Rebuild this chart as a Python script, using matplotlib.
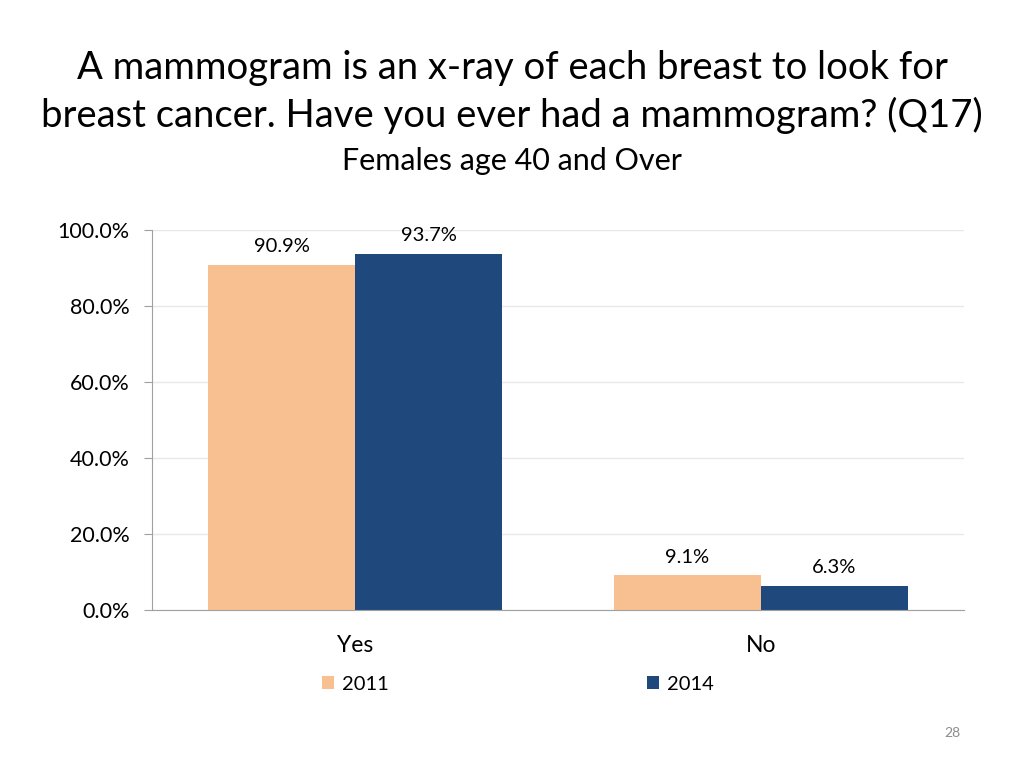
import numpy as np
from matplotlib import pyplot as plt

# =============================================================================
# Data
# =============================================================================
categories = ['Yes', 'No']
years = ['2011', '2014']
values_2011 = [90.9, 9.1]
values_2014 = [93.7, 6.3]
colors = ['#F8C090', '#1F497D']

plt.rcParams['font.family'] = ['Lato', 'DejaVu Sans']

fig = plt.figure(figsize=(10.24, 7.68), dpi=100)
ax = fig.add_axes([0.1484, 0.2057, 0.7930, 0.4948])

x = np.arange(len(categories))
w = 0.362
b1 = ax.bar(x - w/2, values_2011, w, color=colors[0], label=years[0])
b2 = ax.bar(x + w/2, values_2014, w, color=colors[1], label=years[1])

for bars in (b1, b2):
    for r in bars:
        ax.annotate('%.1f%%' % r.get_height(), (r.get_x() + r.get_width()/2, r.get_height()),
                    xytext=(0, 7), textcoords='offset points', ha='center', va='bottom', fontsize=14.5)

ax.set_xlim(-0.5, 1.5)
ax.set_ylim(0, 100)
ax.set_yticks(np.arange(0, 101, 20))
ax.set_yticklabels(['%.1f%%' % v for v in np.arange(0, 101, 20)], fontsize=15.5)
ax.set_xticks(x)
ax.set_xticklabels(categories, fontsize=16.5)
ax.tick_params(axis='x', length=0, pad=18)
ax.tick_params(axis='y', length=6, color='#A0A0A0', pad=10)
ax.yaxis.grid(True, color='#E8E8E8', lw=1)
ax.set_axisbelow(True)
for s in ['top', 'right']:
    ax.spines[s].set_visible(False)
ax.spines['left'].set_color('#A0A0A0')
ax.spines['bottom'].set_color('#A0A0A0')

# legend
#------------------------------------------------------------------------------
fig.legend(handles=[b1, b2], loc='center', bbox_to_anchor=(0.506, 0.109), ncol=2,
           frameon=False, fontsize=14.5, handlelength=0.6, handleheight=0.6,
           handletextpad=0.4, columnspacing=12.8)

# titles
#------------------------------------------------------------------------------
fig.text(0.5, 0.911, 'A mammogram is an x-ray of each breast to look for', ha='center', va='center', fontsize=27.5)
fig.text(0.5, 0.850, 'breast cancer. Have you ever had a mammogram? (Q17)', ha='center', va='center', fontsize=27.5)
fig.text(0.5, 0.791, 'Females age 40 and Over', ha='center', va='center', fontsize=22)
fig.text(0.93, 0.045, '28', ha='center', va='center', fontsize=10, color='#8C8C8C')

fig.savefig('out.png')
